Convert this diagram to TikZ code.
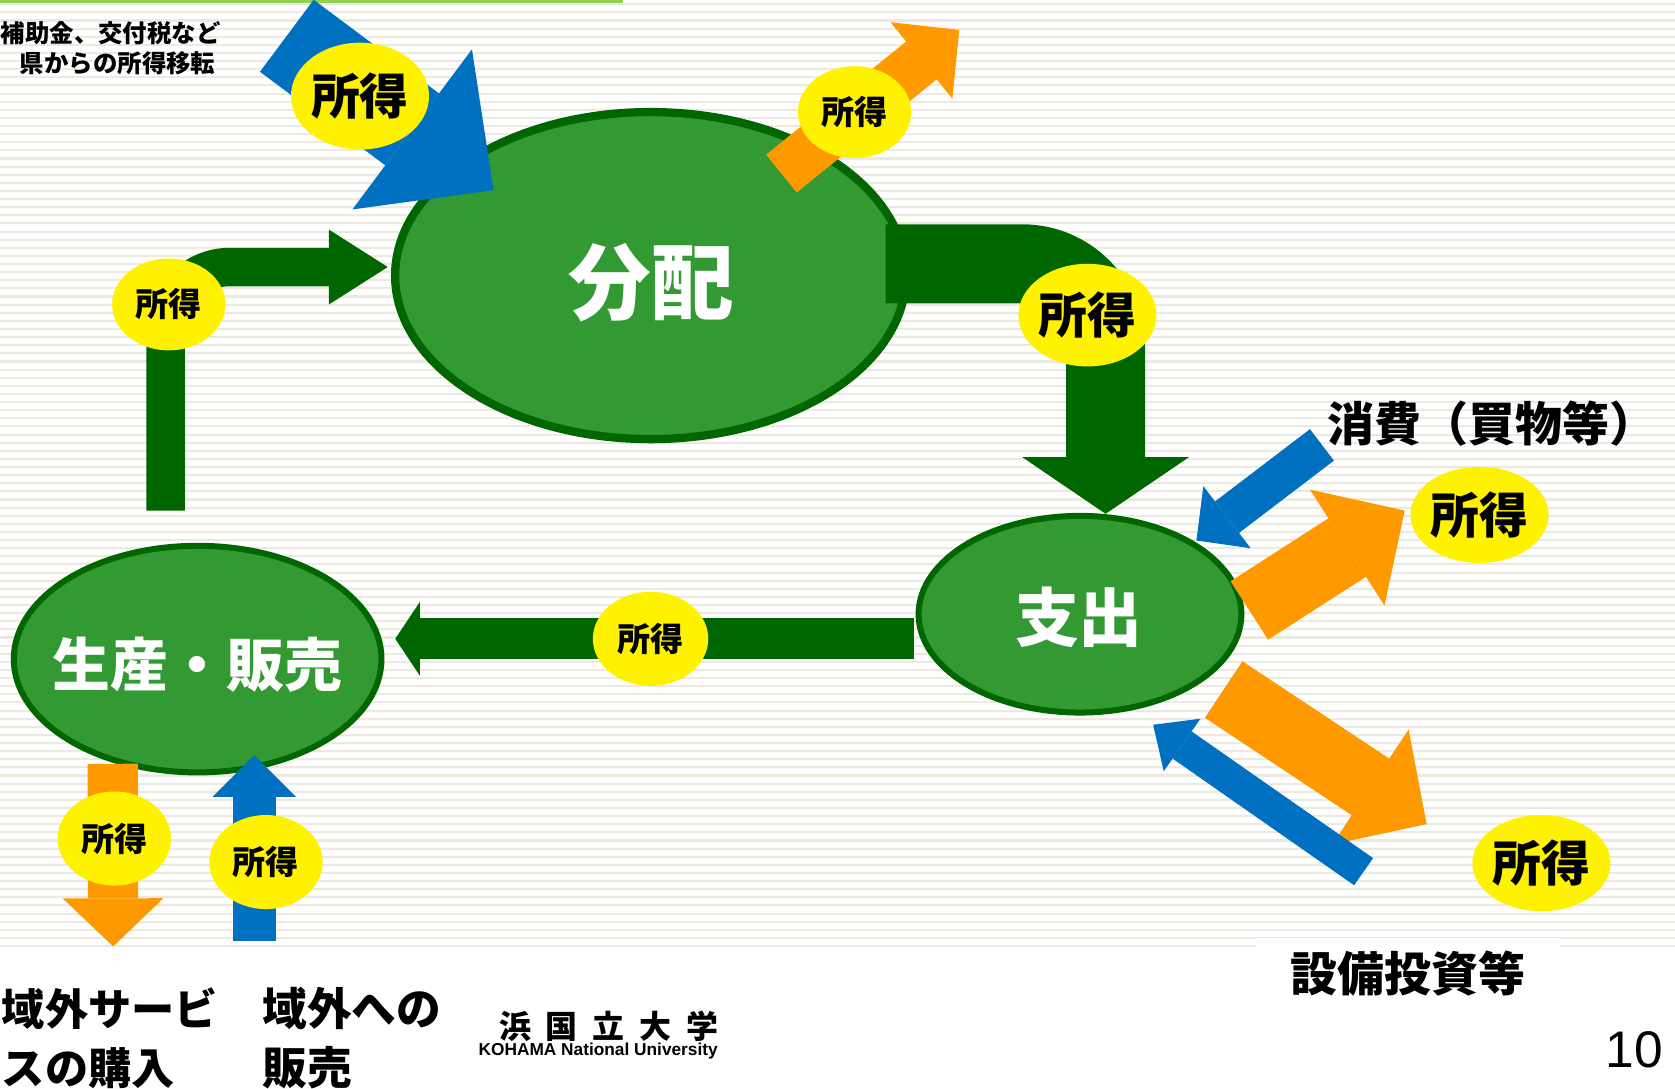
\documentclass[tikz,border=0pt]{standalone}
\usepackage{fontspec}
\newfontfamily\jp{Noto Sans CJK JP}
\setsansfont{Liberation Sans}
\usetikzlibrary{shapes.geometric,arrows.meta}
\definecolor{fieldgreen}{HTML}{339933}
\definecolor{pipegreen}{HTML}{006600}
\definecolor{flowblue}{HTML}{0070C0}
\definecolor{floworange}{HTML}{FF9900}
\definecolor{stripegray}{HTML}{ECE9E1}
\definecolor{rulegreen}{HTML}{92D050}
\tikzset{
  sector/.style={shape=ellipse, draw=pipegreen, fill=fieldgreen, line width=1.6pt, inner sep=0pt},
  sectortext/.style={text=white, inner sep=0pt},
  shotoku/.style={shape=ellipse, fill=yellow, inner sep=0pt, minimum width=1.06cm, minimum height=0.86cm,
    font=\jp\bfseries\fontsize{8.8pt}{10pt}\selectfont},
  bigshotoku/.style={shotoku, minimum width=1.24cm, minimum height=0.94cm,
    font=\jp\bfseries\fontsize{13pt}{15pt}\selectfont},
  flowcaption/.style={inner sep=0pt},
  pipe/.style={draw=pipegreen},
  inflow/.style={draw=flowblue},
  outflow/.style={draw=floworange},
  tiphead/.style 2 args={-{Triangle[width=#1,length=#2,line width=0pt]}},
}
\begin{document}
\begin{tikzpicture}[x=0.01cm, y=-0.01cm]
\useasboundingbox (0,0) rectangle (1568,1019);
\fill[white] (0,0) rectangle (1568,1019);
% striped background
\foreach \y in {4,11.6,...,886}
  \draw[stripegray, line width=0.55pt] (0,\y) -- (1568,\y);
\draw[rulegreen, line width=0.9pt] (0,1) -- (583,1);

% sectors
\node[sector, minimum width=4.78cm, minimum height=3.06cm, line width=2.2pt] (bunpai) at (609,258) {};
\node[sector, minimum width=3.02cm, minimum height=1.84cm] (shishutsu) at (1011,575) {};
\node[sector, minimum width=3.44cm, minimum height=2.12cm] (seisan) at (185,617) {};
\node[sectortext, font=\jp\bfseries\fontsize{22pt}{24pt}\selectfont] (bunpai-t) at (610,265) {分配};
\node[sectortext, font=\jp\bfseries\fontsize{17pt}{19pt}\selectfont] (shishutsu-t) at (1010,578) {支出};
\node[sectortext, font=\jp\bfseries\fontsize{15.4pt}{17pt}\selectfont] (seisan-t) at (185,622) {生産・販売};

% green flows
\coordinate (p1s) at (155,478);
\coordinate (p1e) at (363,250);
\coordinate (p2s) at (829,247);
\coordinate (p2e) at (1035,481);
\coordinate (p3s) at (856,598);
\coordinate (p3e) at (370,598);
\draw[pipe, line width=0.36cm, rounded corners=0.6cm, tiphead={0.7cm}{0.55cm}] (p1s) |- (p1e);
\draw[pipe, line width=0.74cm, rounded corners=0.78cm, tiphead={1.56cm}{0.53cm}] (p2s) -| (p2e);
\draw[pipe, line width=0.38cm, tiphead={0.69cm}{0.23cm}] (p3s) -- (p3e);

% flows in and out of the region
\coordinate (hojo-s) at (268.5,33.5);
\coordinate (hojo-e) at (462,178);
\coordinate (tax-s) at (731.5,162.5);
\coordinate (tax-e) at (898,28);
\coordinate (shohi-s) at (1237.5,416.5);
\coordinate (shohi-e) at (1120,506);
\coordinate (kai-s) at (1169.5,571.5);
\coordinate (kai-e) at (1315,478);
\coordinate (toshi-s) at (1145.5,645.5);
\coordinate (toshi-e) at (1335.5,771.5);
\coordinate (setsubi-s) at (1276.5,816);
\coordinate (setsubi-e) at (1079.5,678.5);
\coordinate (gaibu-s) at (105.5,715);
\coordinate (gaibu-e) at (106,886);
\coordinate (uri-s) at (238,881);
\coordinate (uri-e) at (238,707);
\draw[inflow, line width=0.84cm, tiphead={1.87cm}{0.95cm}] (hojo-s) -- (hojo-e);
\draw[outflow, line width=0.455cm, tiphead={0.92cm}{0.455cm}] (tax-s) -- (tax-e);
\draw[inflow, line width=0.37cm, tiphead={0.73cm}{0.36cm}] (shohi-s) -- (shohi-e);
\draw[outflow, line width=0.65cm, tiphead={1.29cm}{0.64cm}] (kai-s) -- (kai-e);
\draw[outflow, line width=0.635cm, tiphead={1.29cm}{0.63cm}] (toshi-s) -- (toshi-e);
\draw[inflow, line width=0.31cm, tiphead={0.6cm}{0.33cm}] (setsubi-s) -- (setsubi-e);
\draw[outflow, line width=0.47cm, tiphead={0.94cm}{0.45cm}] (gaibu-s) -- (gaibu-e);
\draw[inflow, line width=0.40cm, tiphead={0.78cm}{0.39cm}] (uri-s) -- (uri-e);

% income tags
\node[bigshotoku, minimum height=1.0cm] (s1) at (337,90) {所得};
\node[shotoku] (s2) at (800,105) {所得};
\node[shotoku] (s3) at (158,285) {所得};
\node[bigshotoku, minimum width=1.2cm, minimum height=0.96cm] (s4) at (1018,295) {所得};
\node[shotoku, minimum width=1.08cm, minimum height=0.88cm] (s5) at (609,598) {所得};
\node[bigshotoku, minimum height=0.9cm] (s6) at (1385,482) {所得};
\node[bigshotoku, minimum height=0.9cm] (s7) at (1443,808) {所得};
\node[shotoku, minimum height=0.88cm] (s8) at (107,785) {所得};
\node[shotoku, minimum height=0.88cm] (s9) at (249,807) {所得};

% captions
\node[flowcaption, anchor=west, font=\jp\bfseries\fontsize{6.5pt}{8pt}\selectfont] (hojo) at (0,31) {補助金、交付税など};
\node[flowcaption, anchor=west, font=\jp\bfseries\fontsize{6.5pt}{8pt}\selectfont] (iten) at (18,59) {県からの所得移転};
\node[flowcaption, font=\jp\bfseries\fontsize{12.5pt}{14pt}\selectfont] (shohi) at (1397,397) {消費（買物等）};
\node[flowcaption, fill=white, minimum width=2.85cm, minimum height=0.66cm,
  font=\jp\bfseries\fontsize{12.5pt}{14pt}\selectfont] (setsubi) at (1318,911) {設備投資等};
\node[flowcaption, anchor=west, align=left, font=\jp\bfseries\fontsize{11.5pt}{15.6pt}\selectfont] (kounyu) at (1,972) {域外サービ\\スの購入};
\node[flowcaption, anchor=west, align=left, font=\jp\bfseries\fontsize{11.9pt}{15.6pt}\selectfont] (hanbai) at (245,972) {域外への\\販売};
\node[flowcaption, font=\jp\bfseries\fontsize{8.5pt}{9pt}\selectfont] (logo) at (570,961) {浜\hspace{4pt}国\hspace{4pt}立\hspace{4pt}大\hspace{4pt}学};
\node[flowcaption, font=\sffamily\bfseries\fontsize{4.6pt}{5pt}\selectfont] (logo-en) at (560,984) {KOHAMA National University};
\node[flowcaption, font=\sffamily\fontsize{13.7pt}{15pt}\selectfont] (page) at (1530,983) {10};
\end{tikzpicture}
\end{document}
